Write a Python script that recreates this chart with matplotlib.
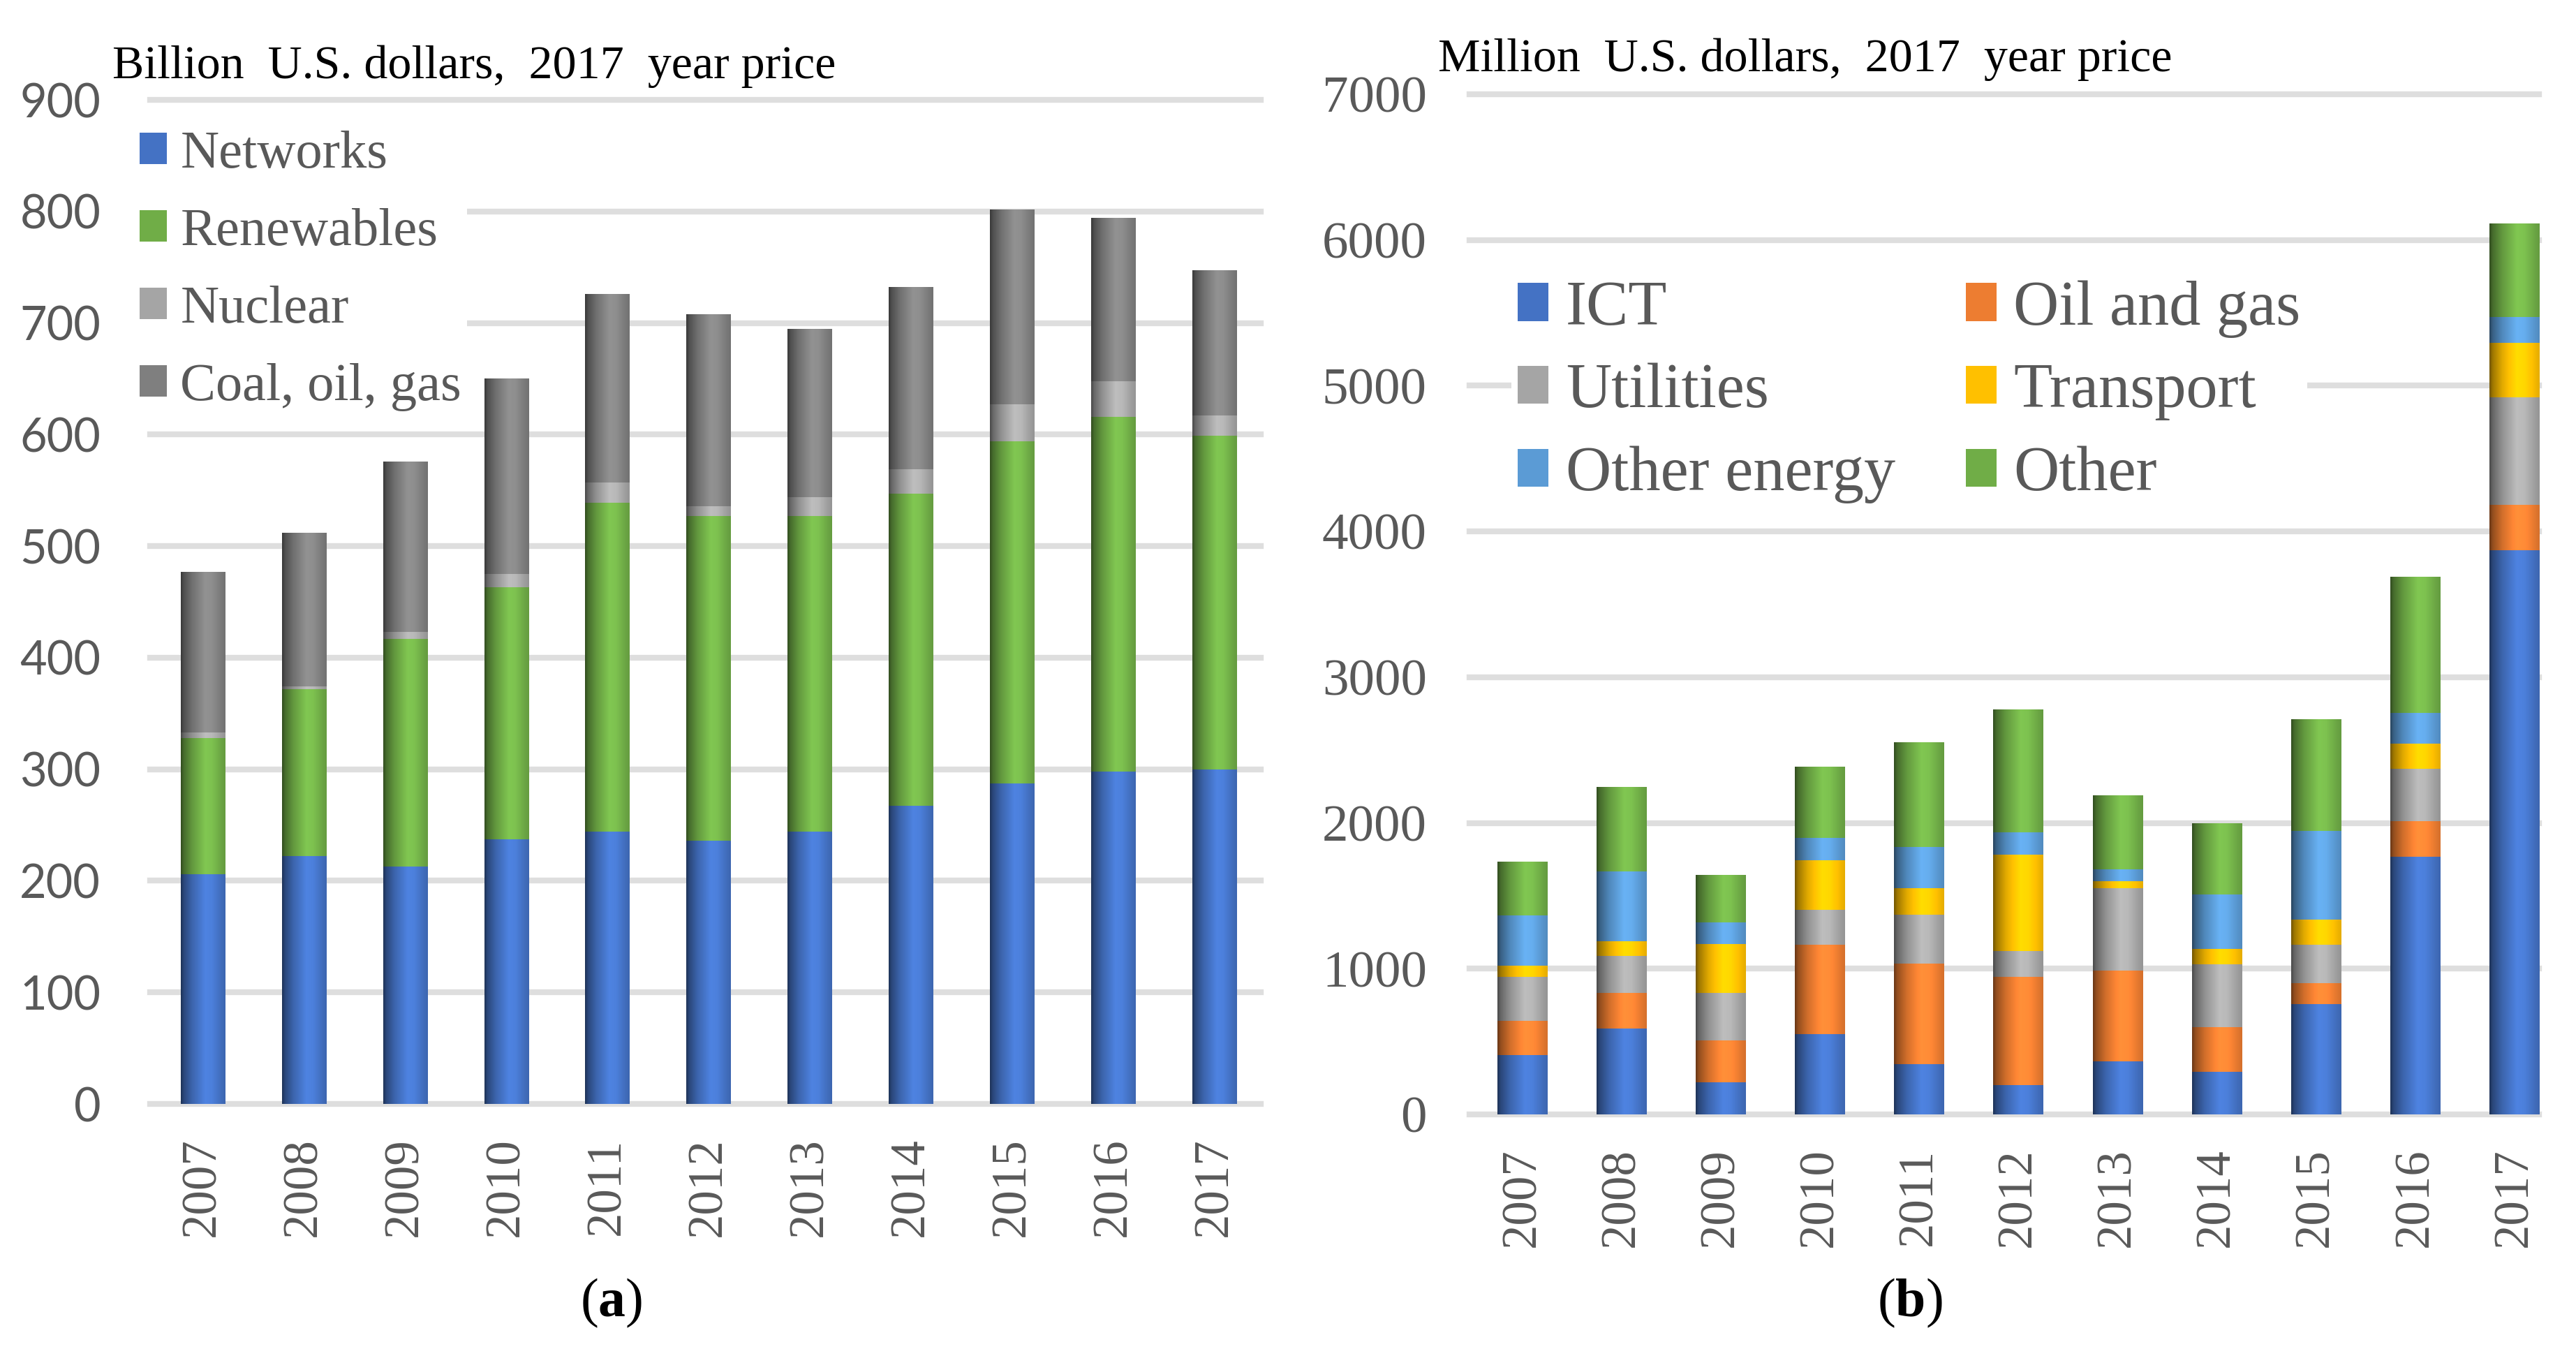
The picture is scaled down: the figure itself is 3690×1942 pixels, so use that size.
import numpy as np
import matplotlib
matplotlib.use("Agg")
import matplotlib.pyplot as plt
from matplotlib.colors import to_rgb
from matplotlib.transforms import IdentityTransform

plt.rcParams['font.family'] = ['Liberation Serif', 'DejaVu Serif']
plt.rcParams['mathtext.fontset'] = 'custom'
plt.rcParams['mathtext.rm'] = 'Liberation Serif'
plt.rcParams['mathtext.bf'] = 'Liberation Serif:bold'

years = [str(y) for y in range(2007, 2018)]

# (a) billion U.S. dollars
networks   = [206, 222, 213, 237, 244, 236, 244, 267, 287, 298, 300]
renewables = [122, 150, 204, 226, 295, 291, 283, 280, 307, 318, 299]
nuclear    = [5, 2, 6, 12, 18, 9, 17, 22, 33, 32, 18]
fossil     = [144, 138, 153, 175, 169, 172, 151, 163, 175, 146, 130]
labels_a = ["Networks", "Renewables", "Nuclear", "Coal, oil, gas"]
colors_a = ["#4472C4", "#70AD47", "#A5A5A5", "#7F7F7F"]

# (b) million U.S. dollars
ict       = [409, 591, 222, 551, 344, 202, 364, 293, 758, 1769, 3871]
oil_gas   = [233, 243, 288, 611, 692, 743, 621, 308, 141, 242, 313]
utilities = [303, 252, 324, 243, 333, 177, 566, 430, 263, 359, 738]
transport = [76, 101, 333, 338, 182, 662, 51, 106, 177, 172, 374]
other_en  = [343, 481, 152, 152, 283, 151, 81, 374, 606, 212, 176]
other     = [369, 581, 323, 490, 718, 844, 505, 485, 768, 935, 642]
labels_b = ["ICT", "Oil and gas", "Utilities", "Transport", "Other energy", "Other"]
colors_b = ["#4472C4", "#ED7D31", "#A5A5A5", "#FFC000", "#5B9BD5", "#70AD47"]

GRAY = "#595959"
GRID = "#DEDEDE"
H = 1942  # picture height in px, for placing legends

# shading across a bar, like the Excel cylinder fill
t_pts = [0.0, 0.06, 0.25, 0.55, 0.7, 0.92, 1.0]
f_pts = [0.45, 0.62, 0.88, 1.15, 1.12, 0.95, 0.9]
prof = np.interp(np.linspace(0, 1, 80), t_pts, f_pts)


def shaded(ax, bars, color):
    base = np.array(to_rgb(color))
    img = np.clip(base[None, None, :] * prof[None, :, None], 0, 1)
    for b in bars:
        h = b.get_height()
        if h <= 0:
            continue
        x0, y0, w = b.get_x(), b.get_y(), b.get_width()
        im = ax.imshow(img, extent=(x0, x0 + w, y0, y0 + h), aspect='auto',
                       interpolation='bilinear', zorder=2.5)
        im.set_clip_path(b)


def stack(ax, series, colors, labels, width):
    x = np.arange(len(years))
    bottom = np.zeros(len(years))
    for vals, c, lab in zip(series, colors, labels):
        bars = ax.bar(x, vals, width, bottom=bottom, color=c, label=lab,
                      zorder=2, linewidth=0)
        shaded(ax, bars, c)
        bottom += np.array(vals)


def style(ax):
    for s in ax.spines.values():
        s.set_visible(False)
    ax.set_axisbelow(True)
    ax.yaxis.grid(True, color=GRID, linewidth=6)
    ax.tick_params(length=0)
    ax.set_xticks(np.arange(len(years)))
    ax.set_xticklabels(years, rotation=90, fontsize=51, color=GRAY)
    ax.tick_params(axis='x', pad=35)
    for ln in ax.get_ygridlines():
        ln.set_clip_on(False)


fig = plt.figure(figsize=(36.9, 19.42), dpi=100)

# panel (a)
ax1 = fig.add_axes([0.05827, 0.18589, 0.4312, 0.74047])
stack(ax1, [networks, renewables, nuclear, fossil], colors_a, labels_a, 0.435)
style(ax1)
ax1.set_xlim(-0.52, 10.46)
ax1.set_ylim(0, 900)
ax1.set_yticks(range(0, 901, 100))
ax1.tick_params(axis='y', pad=51, labelsize=48, labelcolor=GRAY)
for lab in ax1.get_yticklabels():
    lab.set_family('Lato')
leg1 = ax1.legend(loc='upper left', bbox_to_anchor=(192, H - 179),
                  bbox_transform=IdentityTransform(), fontsize=55,
                  labelcolor=GRAY, frameon=True, facecolor='white',
                  edgecolor='none', framealpha=1, fancybox=False,
                  borderpad=0.1, handlelength=0.52, handleheight=0.52,
                  handletextpad=0.25, labelspacing=0.55, borderaxespad=0)
leg1.set_zorder(5)
fig.text(0.04363, 0.94233, "Billion  U.S. dollars,  2017  year price",
         fontsize=49, color='black', va='baseline', ha='left')
fig.text(876 / 3690, 0.039, r"($\mathbf{a}$)", fontsize=56, ha='center',
         va='center')

# panel (b)
ax2 = fig.add_axes([0.57046, 0.17817, 0.41518, 0.75232])
stack(ax2, [ict, oil_gas, utilities, transport, other_en, other], colors_b,
      labels_b, 0.50)
style(ax2)
ax2.set_xlim(-0.531, 10.25)
ax2.set_ylim(0, 7000)
ax2.set_yticks(range(0, 7001, 1000))
ax2.tick_params(axis='y', pad=44, labelsize=54, labelcolor=GRAY)
# legend is filled row by row in the reference
hb, lb = ax2.get_legend_handles_labels()
order = [0, 2, 4, 1, 3, 5]
leg2 = ax2.legend([hb[i] for i in order], [lb[i] for i in order],
                  loc='upper left', bbox_to_anchor=(2165, H - 392),
                  bbox_transform=IdentityTransform(), ncol=2, fontsize=65,
                  labelcolor=GRAY, frameon=True, facecolor='white',
                  edgecolor='none', framealpha=1, fancybox=False,
                  borderpad=0.1, handlelength=0.49, handleheight=0.55,
                  handletextpad=0.27, labelspacing=0.4, columnspacing=1.12,
                  borderaxespad=0)
leg2.set_zorder(5)
fig.text(0.55827, 0.94748, "Million  U.S. dollars,  2017  year price",
         fontsize=49, color='black', va='baseline', ha='left')
fig.text(2736 / 3690, 0.039, r"($\mathbf{b}$)", fontsize=56, ha='center',
         va='center')

fig.savefig("out.png", dpi=100, facecolor='white')
